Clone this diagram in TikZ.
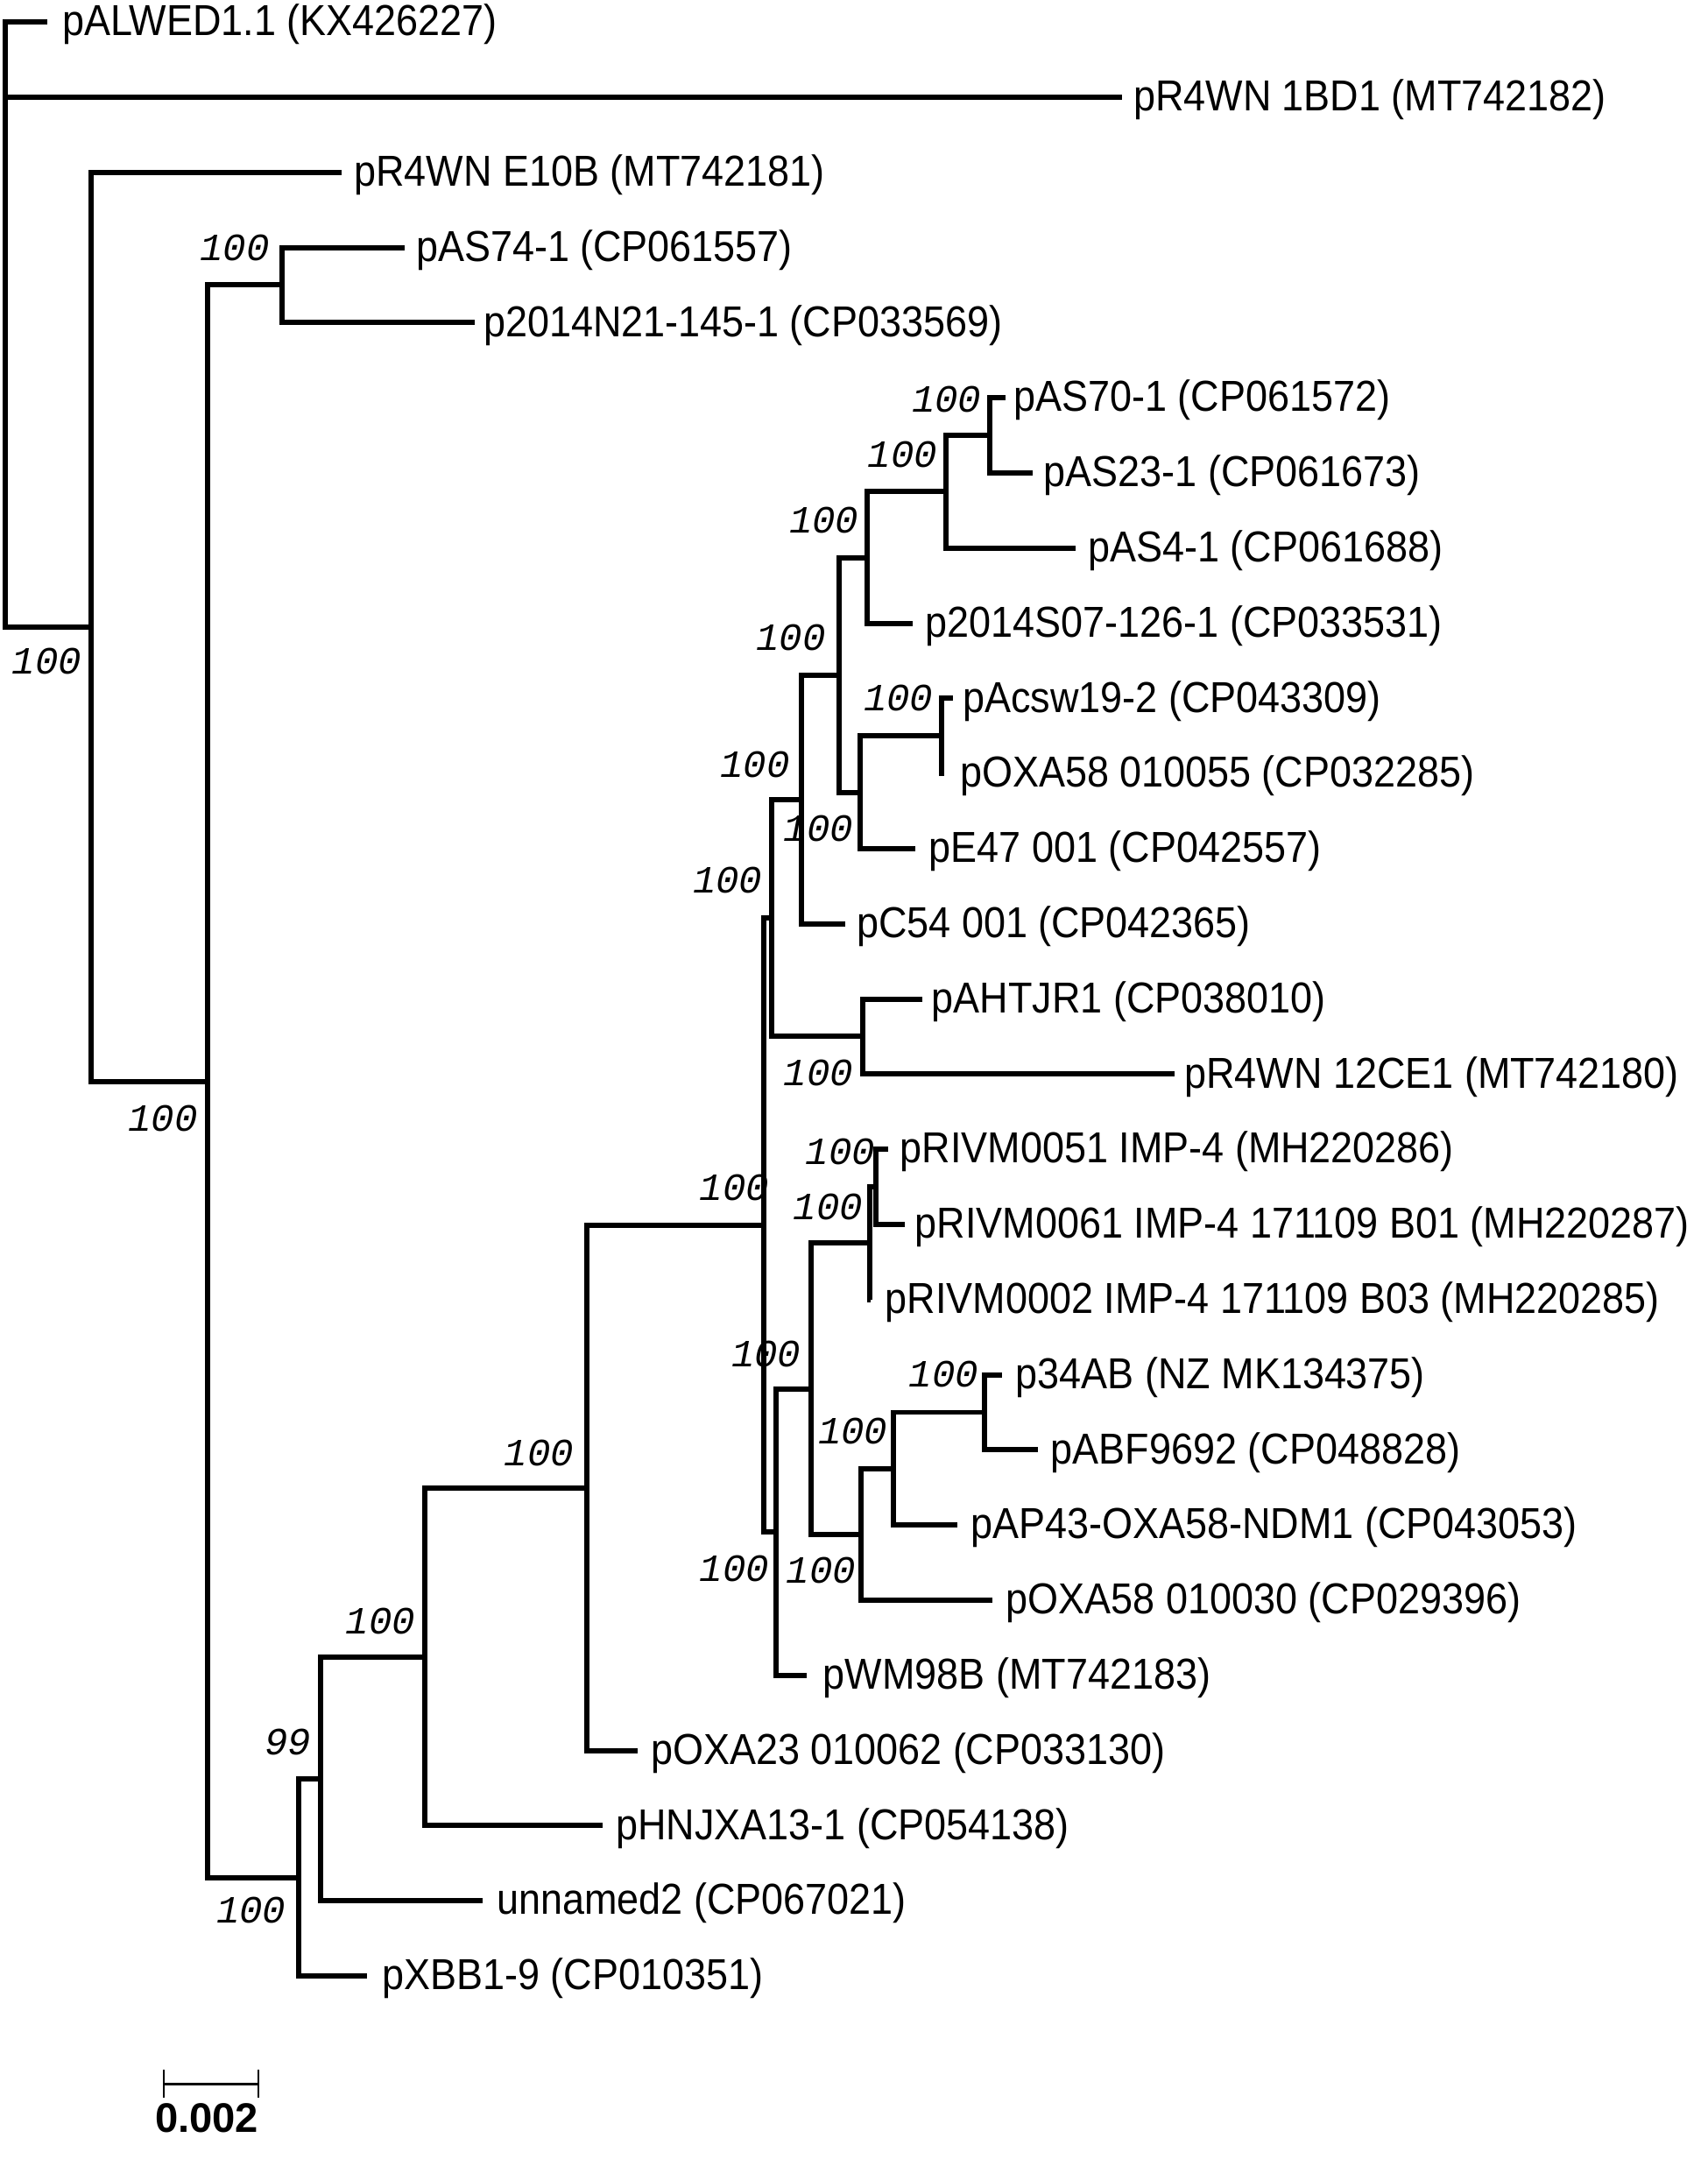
\documentclass[tikz,border=0pt]{standalone}
\usepackage{fontspec}
\setmainfont{Liberation Sans}
\newfontfamily\bootfont{Liberation Mono}
\begin{document}
\begin{tikzpicture}[x=1pt,y=-1pt,
  br/.style={line width=3.8pt,line join=miter},
  lab/.style={anchor=base west,inner sep=0pt,font=\fontsize{28.6}{30}\selectfont},
  boot/.style={anchor=base west,inner sep=0pt,font=\bootfont\itshape\fontsize{28}{29}\selectfont},
  sbar/.style={line width=1.8pt},
  sblab/.style={anchor=base west,inner sep=0pt,font=\bfseries\fontsize{30}{31}\selectfont}]
\useasboundingbox (0,0) rectangle (1240,1568);
% internal nodes
\coordinate (root) at (4,235.6);
\coordinate (A) at (66.3,455.2);
\coordinate (B) at (150.7,785.3);
\coordinate (C) at (205,207);
\coordinate (D) at (217.2,1363.5);
\coordinate (E) at (233,1291.9);
\coordinate (F) at (308.5,1203.2);
\coordinate (G) at (426,1080.5);
\coordinate (H) at (554.4,889.7);
\coordinate (I) at (560.6,666.7);
\coordinate (J) at (582,580.6);
\coordinate (P) at (609.6,490.2);
\coordinate (Q) at (629.7,404.9);
\coordinate (Rr) at (686.8,357.1);
\coordinate (T) at (719,316.2);
\coordinate (S) at (624.4,575.4);
\coordinate (S2) at (684,534.5);
\coordinate (K) at (626.6,752.8);
\coordinate (Y) at (563.7,1112.7);
\coordinate (Z) at (589,1008.7);
\coordinate (R1) at (631.5,902.9);
\coordinate (R2) at (636,862);
\coordinate (W) at (625,1114.4);
\coordinate (V) at (649,1066.7);
\coordinate (U) at (715,1025.7);
% leaves: end of branch and label
\foreach \n/\y/\ex/\tx/\txt in {
 1/16/34.5/45/{pALWED1.1 (KX426227)},
 2/70.58/815/823/{pR4WN 1BD1 (MT742182)},
 3/125.16/248/257/{pR4WN E10B (MT742181)},
 4/179.74/294/302/{pAS74-1 (CP061557)},
 5/234.32/345/351/{p2014N21-145-1 (CP033569)},
 6/288.9/730/736/{pAS70-1 (CP061572)},
 7/343.48/750/758/{pAS23-1 (CP061673)},
 8/398.06/781/790/{pAS4-1 (CP061688)},
 9/452.64/663/672/{p2014S07-126-1 (CP033531)},
 10/507.22/692/699/{pAcsw19-2 (CP043309)},
 11/561.8/686/697/{pOXA58 010055 (CP032285)},
 12/616.38/665/674.6/{pE47 001 (CP042557)},
 13/670.96/614/622/{pC54 001 (CP042365)},
 14/725.54/670/676.6/{pAHTJR1 (CP038010)},
 15/780.12/852.7/860/{pR4WN 12CE1 (MT742180)},
 16/834.7/645/653.6/{pRIVM0051 IMP-4 (MH220286)},
 17/889.28/657/664.4/{pRIVM0061 IMP-4 171109 B01 (MH220287)},
 18/943.86/632.5/642.8/{pRIVM0002 IMP-4 171109 B03 (MH220285)},
 19/998.44/728/737.5/{p34AB (NZ MK134375)},
 20/1053.02/753.5/763/{pABF9692 (CP048828)},
 21/1107.6/695.3/705/{pAP43-OXA58-NDM1 (CP043053)},
 22/1162.18/721/730.5/{pOXA58 010030 (CP029396)},
 23/1216.76/585.6/597.6/{pWM98B (MT742183)},
 24/1271.34/463/472.5/{pOXA23 010062 (CP033130)},
 25/1325.92/437.6/447.2/{pHNJXA13-1 (CP054138)},
 26/1380.5/350.6/360.8/{unnamed2 (CP067021)},
 27/1435.08/266.3/277.5/{pXBB1-9 (CP010351)}}{
  \coordinate (e\n) at (\ex,\y);
  \node[lab] (t\n) at (\tx,\y+10) {\scalebox{1}[1.1]{\txt}};
}
% branches
\foreach \p/\c in {root/e1,root/e2,root/A,A/e3,A/B,B/C,B/D,C/e4,C/e5,
  D/E,D/e27,E/F,E/e26,F/G,F/e25,G/H,G/e24,H/I,H/Y,I/J,I/K,J/P,J/e13,
  P/Q,P/S,Q/Rr,Q/e9,Rr/T,Rr/e8,T/e6,T/e7,S/S2,S/e12,S2/e10,S2/e11,
  K/e14,K/e15,Y/Z,Y/e23,Z/R1,Z/W,R1/R2,R1/e18,R2/e16,R2/e17,
  W/V,W/e22,V/U,V/e21,U/e19,U/e20}{
  \draw[br] (\p) |- (\c);
}
% bootstrap values
\foreach \n/\bx/\by/\bt in {
 1/145/181/100, 2/8.5/481/100, 3/93/813/100, 4/662/291/100,
 5/630/331/100, 6/573/378.5/100, 7/549/464/100, 8/627/508/100,
 9/523/556/100, 10/569/602.7/100, 11/503/640/100, 12/569/780/100,
 13/508/863/100, 14/585/837.5/100, 15/576/877/100, 16/531/984/100,
 17/594/1040/100, 18/660/999/100, 19/508/1140/100, 20/571/1141/100,
 21/366/1056/100, 22/251/1178/100, 23/192/1266/99, 24/157/1388/100}{
  \node[boot] (b\n) at (\bx,\by+8.5) {\bt};
}
% scale bar
\coordinate (sbl) at (119,1513.4);
\coordinate (sbr) at (187.6,1513.4);
\draw[sbar] (sbl) -- (sbr);
\draw[sbar] ([yshift=-10pt]sbl) -- ([yshift=10pt]sbl);
\draw[sbar] ([yshift=-10pt]sbr) -- ([yshift=10pt]sbr);
\node[sblab] (sbt) at (112.5,1548.5) {0.002};
\end{tikzpicture}
\end{document}
